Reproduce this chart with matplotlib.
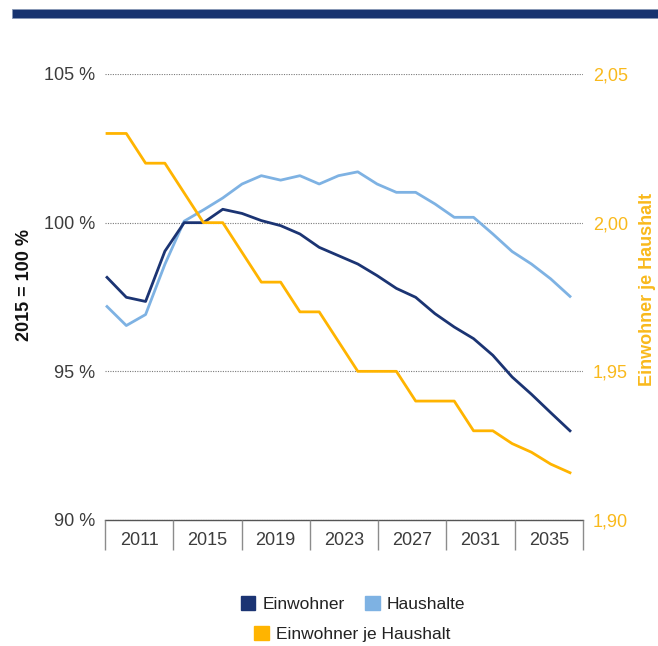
import matplotlib
matplotlib.use("Agg")
import matplotlib.pyplot as plt
from matplotlib.patches import Patch, Rectangle

plt.rcParams['font.family'] = ['Liberation Sans', 'DejaVu Sans']

# Daten
jahre = list(range(2011, 2036))
einwohner = [98.16, 97.49, 97.35, 99.04, 100.0, 100.0, 100.45, 100.31, 100.07, 99.9,
             99.62, 99.17, 98.89, 98.61, 98.22, 97.79, 97.49, 96.94, 96.49, 96.1,
             95.54, 94.81, 94.23, 93.61, 93.0]
haushalte = [97.18, 96.54, 96.91, 98.6, 100.05, 100.43, 100.83, 101.3, 101.58, 101.43,
             101.58, 101.3, 101.58, 101.71, 101.3, 101.02, 101.02, 100.63, 100.18, 100.18,
             99.62, 99.03, 98.61, 98.11, 97.52]
ew_je_hh = [2.03, 2.03, 2.02, 2.02, 2.01, 2.00, 2.00, 1.99, 1.98, 1.98,
            1.97, 1.97, 1.96, 1.95, 1.95, 1.95, 1.94, 1.94, 1.94, 1.93,
            1.93, 1.9257, 1.9228, 1.9188, 1.9159]
gruppen_labels = ["2011", "2015", "2019", "2023", "2027", "2031", "2035"]
links_ticks = [90, 95, 100, 105]
rechts_ticks = [1.90, 1.95, 2.00, 2.05]

NAVY = "#1B3473"
HELLBLAU = "#7EB2E3"
GELB = "#FFB400"
GELB_TXT = "#F9B91C"
GRAU_TXT = "#3C3C3C"

fig = plt.figure(figsize=(6.58, 6.46), dpi=100)

# Balken oben
fig.patches.append(Rectangle((12 / 658, 1 - 17.5 / 646), 1 - 12 / 658, 8.5 / 646,
                             transform=fig.transFigure, facecolor="#17336F",
                             edgecolor="#8797B5", linewidth=0.6))

ax = fig.add_axes([105 / 658, 1 - 520 / 646, 478 / 658, 446 / 646])
ax.set_xlim(2010.896, 2035.674)
ax.set_ylim(90, 105)
ax.set_yticks(links_ticks)
ax.set_yticklabels([f"{v} %" for v in links_ticks], fontsize=13, color=GRAU_TXT)
ax.tick_params(axis="y", length=0, pad=7)
ax.grid(axis="y", color="#7a7a7a", linestyle=(0, (1, 1.2)), linewidth=0.8)
for s in ["left", "right", "top"]:
    ax.spines[s].set_visible(False)
ax.spines["bottom"].set_color("#555555")
ax.spines["bottom"].set_linewidth(1.0)
ax.spines["bottom"].set_zorder(5)

ax.plot(jahre, haushalte, color=HELLBLAU, lw=2.0, zorder=3)
ax.plot(jahre, einwohner, color=NAVY, lw=2.0, zorder=4)

ax_r = ax.twinx()
ax_r.set_ylim(1.90, 2.05)
ax_r.set_yticks(rechts_ticks)
ax_r.set_yticklabels([f"{v:.2f}".replace(".", ",") for v in rechts_ticks],
                     fontsize=13, color=GELB_TXT)
ax_r.tick_params(axis="y", length=0, pad=7)
for s in ax_r.spines.values():
    s.set_visible(False)
ax_r.plot(jahre, ew_je_hh, color=GELB, lw=2.0)

# Jahresachse ausblenden
ax.set_xticks([])
ax_r.set_xticks([])

# Kategorienachse mit Gruppen
cax = ax.twiny()
cax.set_xlim(0, 4 * len(gruppen_labels))
cax.xaxis.set_ticks_position("bottom")
for s in cax.spines.values():
    s.set_visible(False)
cax.set_xticks(range(0, 4 * len(gruppen_labels) + 1, 4))
cax.set_xticklabels([])
cax.set_xticks([4 * i + 2 for i in range(len(gruppen_labels))], minor=True)
cax.set_xticklabels(gruppen_labels, minor=True, fontsize=13, color=GRAU_TXT)
cax.tick_params(axis="x", which="major", direction="out", length=21.6, width=1.0,
                color="#8c8c8c")
cax.tick_params(axis="x", which="minor", length=0, pad=8.5)

fig.text(25 / 658, 1 - 285 / 646, "2015 = 100 %", rotation=90, ha="center",
         va="center", fontsize=13, fontweight="bold", color="#111111")
fig.text(647 / 658, 1 - 289 / 646, "Einwohner je Haushalt", rotation=90, ha="center",
         va="center", fontsize=13, fontweight="bold", color=GELB_TXT)

leg_kw = dict(frameon=False, fontsize=12.5, handlelength=0.85, handleheight=0.85,
              handletextpad=0.4, columnspacing=1.2, borderpad=0, labelcolor="#222222")
leg1 = fig.legend(handles=[Patch(color=NAVY, label="Einwohner"),
                           Patch(color=HELLBLAU, label="Haushalte")],
                  loc="center", bbox_to_anchor=(353 / 658, 1 - 604 / 646), ncol=2, **leg_kw)
leg2 = fig.legend(handles=[Patch(color=GELB, label="Einwohner je Haushalt")],
                  loc="center", bbox_to_anchor=(352 / 658, 1 - 634 / 646), **leg_kw)

fig.savefig("out.png", dpi=100)
